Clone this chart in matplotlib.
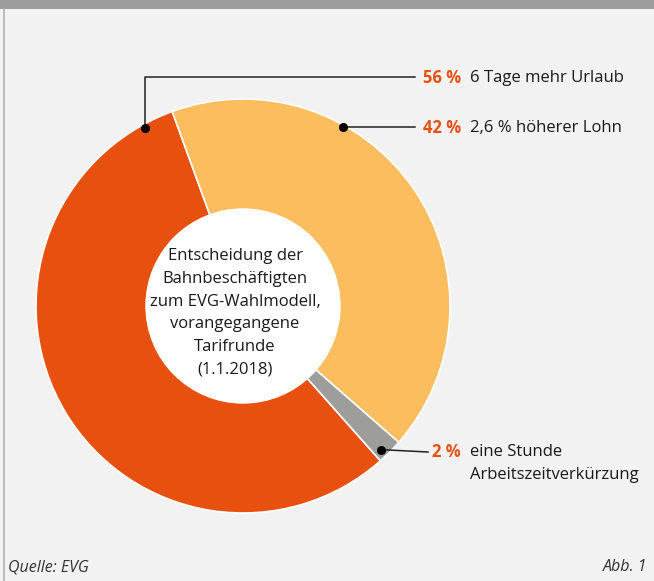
import matplotlib.pyplot as plt
import numpy as np

# data
shares = [56, 42, 2]
pct_labels = ['56 %', '42 %', '2 %']
answers = ['6 Tage mehr Urlaub', '2,6 % höherer Lohn', 'eine Stunde\nArbeitszeitverkürzung']
colors = ['#e8500f', '#fbbd5e', '#9d9d9b']
center_text = 'Entscheidung der\nBahnbeschäftigten\nzum EVG-Wahlmodell,\nvorangegangene\nTarifrunde\n(1.1.2018)'

plt.rcParams['font.family'] = ['Open Sans', 'DejaVu Sans']

W, H = 654, 581
fig = plt.figure(figsize=(W / 100, H / 100), dpi=100, facecolor='#f2f2f2')
ax = fig.add_axes([0, 0, 1, 1])
ax.set_xlim(0, W)
ax.set_ylim(0, H)
ax.set_aspect('equal')
ax.axis('off')

# frame: grey bar at the top, thin line on the left
ax.add_patch(plt.Rectangle((0, H - 9), W, 9, color='#9d9d9b', lw=0))
ax.plot([3.5, 3.5], [0, H - 9], color='#b0b0b0', lw=1.2)

cx, cy, R = 243, H - 306, 207
wedges, _ = ax.pie(shares, colors=colors, startangle=-48.4, counterclock=False,
                   center=(cx, cy), radius=R,
                   wedgeprops=dict(edgecolor='white', linewidth=1.2))
ax.set_xlim(0, W)
ax.set_ylim(0, H)

# white hole
ax.add_patch(plt.Circle((cx, cy), 97, color='white', zorder=3))
ax.text(cx - 8, cy - 7, center_text, ha='center', va='center', fontsize=12,
        color='#1a1a1a', linespacing=1.55, zorder=4)

# leader lines with dots
dot_angles = [118.8, 60.8, -46.2]
dot_r = [203, 205, 199]
pts = [(cx + r * np.cos(np.radians(a)), cy + r * np.sin(np.radians(a))) for a, r in zip(dot_angles, dot_r)]
lc = '#222222'

# 56 %
x0, y0 = pts[0]
ax.plot([x0, x0, 415], [y0, H - 77, H - 77], color=lc, lw=1.1, zorder=5)
# 42 %
x1, y1 = pts[1]
ax.plot([x1, 415], [y1, y1], color=lc, lw=1.1, zorder=5)
# 2 %
x2, y2 = pts[2]
ax.plot([x2, 428], [y2, H - 452], color=lc, lw=1.1, zorder=5)
for x, y in pts:
    ax.plot(x, y, 'o', color='black', ms=5.5, zorder=6)

label_y = [H - 78, H - 128, H - 452]
for lab, ans, y in zip(pct_labels, answers, label_y):
    ax.text(461, y, lab, ha='right', va='center', fontsize=12, fontweight='bold',
            color='#e8500f')
    nlines = ans.count('\n')
    ax.text(470, y - nlines * 11.5, ans, ha='left', va='center',
            fontsize=12, color='#1a1a1a', linespacing=1.55)

ax.text(8, 10, 'Quelle: EVG', ha='left', va='baseline', fontsize=11.5,
        style='italic', color='#333333')
ax.text(647, 10, 'Abb. 1', ha='right', va='baseline', fontsize=11.5,
        style='italic', color='#333333')

fig.savefig('out.png', dpi=100, facecolor=fig.get_facecolor())
